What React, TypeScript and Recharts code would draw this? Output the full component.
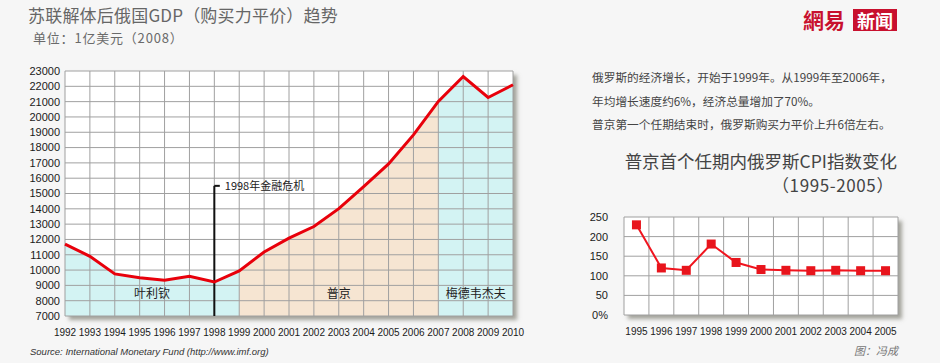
import React from "react"
import {
  Area,
  CartesianGrid,
  ComposedChart,
  Label,
  Line,
  LineChart,
  ReferenceDot,
  ReferenceLine,
  XAxis,
  YAxis,
} from "recharts"

// GDP (PPP), 100m USD (2008)
const years = [1992, 1993, 1994, 1995, 1996, 1997, 1998, 1999, 2000, 2001, 2002, 2003, 2004, 2005, 2006, 2007, 2008, 2009, 2010]
const gdp = [11700, 10900, 9750, 9500, 9330, 9600, 9220, 9950, 11180, 12080, 12840, 14010, 15450, 16930, 18830, 21010, 22640, 21270, 22100]
const gdpTicks = [7000, 8000, 9000, 10000, 11000, 12000, 13000, 14000, 15000, 16000, 17000, 18000, 19000, 20000, 21000, 22000, 23000]

// presidencies
const eraNames = ["叶利钦", "普京", "梅德韦杰夫"]
const eraStarts = [1992, 1999, 2007]
const eraEnds = [1999, 2007, 2010]
const eraFills = ["#d3f3f3", "#f6e5d2", "#d3f3f3"]

const crisisYear = 1998
const crisisText = "1998年金融危机"

// CPI, 1995-2005
const cpiYears = [1995, 1996, 1997, 1998, 1999, 2000, 2001, 2002, 2003, 2004, 2005]
const cpi = [230, 120, 114, 181, 134, 116, 114, 113, 114, 113, 113]
const cpiTicks = [0, 50, 100, 150, 200, 250]

const notes = [
  "俄罗斯的经济增长，开始于1999年。从1999年至2006年，",
  "年均增长速度约6%，经济总量增加了70%。",
  "普京第一个任期结束时，俄罗斯购买力平价上升6倍左右。",
]

const gdpRows = years.map((year, i) => {
  const row: Record<string, number | null> = { year, gdp: gdp[i] }
  eraNames.forEach((_, k) => {
    row["era" + k] = year >= eraStarts[k] && year <= eraEnds[k] ? gdp[i] : null
  })
  return row
})

const cpiRows = cpiYears.map((year, i) => ({ year, cpi: cpi[i] }))

const CJK = '"Noto Sans CJK SC", "Noto Sans", sans-serif'
const LAT = '"Liberation Sans", Arial, sans-serif'
const GRID = "#a0a0a0"
const SHADOW = "4px 4px 4px rgba(95, 95, 80, 0.55)"

const abs = (extra: React.CSSProperties): React.CSSProperties => ({
  position: "absolute",
  whiteSpace: "nowrap",
  lineHeight: 1,
  ...extra,
})

function Square(props: any) {
  const { cx, cy, index } = props
  if (cx == null || cy == null) return null
  return <rect key={"sq" + index} x={cx - 4.5} y={cy - 4.5} width={9} height={9} fill="#e8141c" />
}

export default function App() {
  return (
    <div
      style={{
        position: "absolute",
        left: 0,
        top: 0,
        width: 940,
        height: 363,
        overflow: "hidden",
        background: "#f6f6f6",
        fontFamily: CJK,
      }}
    >
      <div style={abs({ left: 28, top: 6, fontSize: 17, color: "#666", letterSpacing: 0.2 })}>
        苏联解体后俄国GDP（购买力平价）趋势
      </div>
      <div style={abs({ left: 33, top: 31, fontSize: 13, color: "#6a6a6a", letterSpacing: 0.8 })}>
        单位：1亿美元（2008）
      </div>

      {/* plot backgrounds with shadow */}
      <div style={abs({ left: 65, top: 71, width: 448, height: 245, background: "#fff", boxShadow: SHADOW })} />
      <div style={abs({ left: 624, top: 217, width: 274, height: 98, background: "#fff", boxShadow: SHADOW })} />

      <div style={abs({ left: 0, top: 0 })}>
        <ComposedChart width={530} height={363} data={gdpRows} margin={{ top: 71, right: 17, bottom: 27, left: 10 }}>
          <XAxis
            dataKey="year"
            type="number"
            domain={[1992, 2010]}
            ticks={years}
            interval={0}
            axisLine={false}
            tickLine={false}
            tickSize={0}
            tickMargin={13}
            height={20}
            tick={{ fill: "#1a1a1a", fontSize: 10, fontFamily: LAT }}
          />
          <YAxis
            type="number"
            domain={[7000, 23000]}
            ticks={gdpTicks}
            interval={0}
            axisLine={false}
            tickLine={false}
            tickSize={0}
            tickMargin={5}
            width={55}
            tick={{ fill: "#1a1a1a", fontSize: 11, fontFamily: LAT }}
          />
          {eraNames.map((name, k) => (
            <Area
              key={name}
              dataKey={"era" + k}
              type="linear"
              stroke="none"
              fill={eraFills[k]}
              fillOpacity={1}
              isAnimationActive={false}
            />
          ))}
          <CartesianGrid stroke={GRID} strokeWidth={1} zIndex={150} />
          <ReferenceLine
            segment={[{ x: crisisYear, y: 7000 }, { x: crisisYear, y: 15500 }]}
            stroke="#111"
            strokeWidth={2}
          />
          <ReferenceLine
            segment={[{ x: crisisYear, y: 15500 }, { x: crisisYear + 0.22, y: 15500 }]}
            stroke="#111"
            strokeWidth={2}
          />
          <ReferenceDot x={crisisYear + 0.22} y={15500} r={0} fill="none" stroke="none">
            <Label value={crisisText} position="right" offset={5} fill="#222" fontSize={11} fontFamily={CJK} />
          </ReferenceDot>
          {eraNames.map((name, k) => (
            <ReferenceDot
              key={"lbl" + name}
              x={(eraStarts[k] + eraEnds[k]) / 2}
              y={8450}
              r={0}
              fill="none"
              stroke="none"
            >
              <Label value={name} position="center" fill="#222" fontSize={12} fontFamily={CJK} />
            </ReferenceDot>
          ))}
          <Line
            dataKey="gdp"
            type="linear"
            stroke="#e8000b"
            strokeWidth={3}
            dot={false}
            isAnimationActive={false}
          />
        </ComposedChart>
      </div>

      <div style={abs({ left: 30, top: 347, fontSize: 9.5, fontStyle: "italic", color: "#333", fontFamily: LAT })}>
        Source: International Monetary Fund (http://www.imf.org)
      </div>

      {/* logo */}
      <div style={abs({ left: 803, top: 9, fontSize: 21, fontWeight: 700, color: "#c8102e", fontFamily: '"Noto Sans CJK TC", sans-serif' })}>
        網易
      </div>
      <div
        style={abs({
          left: 853,
          top: 9,
          width: 44,
          height: 22,
          background: "#c8102e",
          color: "#fff",
          fontSize: 18,
          fontWeight: 700,
          textAlign: "center",
          lineHeight: "22px",
          fontFamily: '"Noto Sans CJK TC", sans-serif',
        })}
      >
        新闻
      </div>

      {notes.map((t, i) => (
        <div key={i} style={abs({ left: 592, top: 71 + i * 23.5, fontSize: 11.7, color: "#444" })}>
          {t}
        </div>
      ))}

      <div style={abs({ right: 43, top: 152, fontSize: 17.5, color: "#444" })}>普京首个任期内俄罗斯CPI指数变化</div>
      <div style={abs({ right: 46, top: 176, fontSize: 17, color: "#444", letterSpacing: 0.6 })}>（1995-2005）</div>

      <div style={abs({ left: 570, top: 200 })}>
        <LineChart width={340} height={150} data={cpiRows} margin={{ top: 17, right: 12, bottom: 15, left: 10 }}>
          <CartesianGrid stroke={GRID} vertical={false} />
          {[1994.5, 1995.5, 1996.5, 1997.5, 1998.5, 1999.5, 2000.5, 2001.5, 2002.5, 2003.5, 2004.5, 2005.5].map((x) => (
            <ReferenceLine key={x} x={x} stroke={GRID} />
          ))}
          <XAxis
            dataKey="year"
            type="number"
            domain={[1994.5, 2005.5]}
            ticks={cpiYears}
            interval={0}
            axisLine={false}
            tickLine={false}
            tickSize={0}
            tickMargin={13}
            height={20}
            tick={{ fill: "#222", fontSize: 10, fontFamily: LAT }}
          />
          <YAxis
            type="number"
            domain={[0, 250]}
            ticks={cpiTicks}
            interval={0}
            axisLine={false}
            tickLine={false}
            tickSize={0}
            tickMargin={16}
            width={44}
            tickFormatter={(v: number) => (v === 0 ? "0%" : String(v))}
            tick={{ fill: "#1a1a1a", fontSize: 11, fontFamily: LAT }}
          />
          <Line
            dataKey="cpi"
            type="linear"
            stroke="#f0141e"
            strokeWidth={2}
            dot={<Square />}
            isAnimationActive={false}
          />
        </LineChart>
      </div>

      <div style={abs({ right: 42, top: 345, fontSize: 11, fontStyle: "italic", color: "#777" })}>图：冯成</div>
    </div>
  )
}
